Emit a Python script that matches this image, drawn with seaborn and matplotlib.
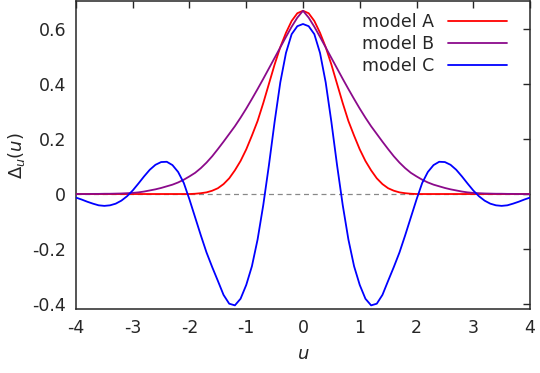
"""Gap function Delta_u(u) for three models."""

import matplotlib

matplotlib.use("Agg")
import matplotlib.pyplot as plt
import numpy as np
import pandas as pd
import seaborn as sns

sns.set_theme(style="white")
plt.rcParams["font.family"] = ["DejaVu Sans"]
plt.rcParams["axes.unicode_minus"] = False

U = np.round(np.arange(-40, 41) / 10, 1)

# right half values u = 0.0 .. 4.0, the curves are even in u
MODEL_A_POS = [
    0.665, 0.656, 0.628, 0.585, 0.533, 0.470, 0.400, 0.330, 0.265, 0.212,
    0.162, 0.120, 0.086, 0.057, 0.036, 0.021, 0.012, 0.006, 0.003, 0.001,
    0.0, 0.0, 0.0, 0.0, 0.0, 0.0, 0.0, 0.0, 0.0, 0.0,
    0.0, 0.0, 0.0, 0.0, 0.0, 0.0, 0.0, 0.0, 0.0, 0.0,
    0.0,
]
MODEL_B_POS = [
    0.665, 0.640, 0.607, 0.570, 0.532, 0.494, 0.456, 0.418, 0.381, 0.345,
    0.310, 0.277, 0.246, 0.218, 0.190, 0.163, 0.137, 0.114, 0.094, 0.077,
    0.064, 0.052, 0.042, 0.034, 0.028, 0.022, 0.017, 0.013, 0.009, 0.006,
    0.004, 0.003, 0.002, 0.0015, 0.001, 0.001, 0.0005, 0.0005, 0.0, 0.0,
    0.0,
]
MODEL_C_POS = [
    0.617, 0.609, 0.580, 0.512, 0.405, 0.262, 0.105, -0.040, -0.165, -0.262,
    -0.330, -0.380, -0.404, -0.398, -0.366, -0.315, -0.265, -0.212, -0.150, -0.085,
    -0.020, 0.040, 0.080, 0.105, 0.117, 0.116, 0.106, 0.088, 0.064, 0.038,
    0.013, -0.008, -0.024, -0.035, -0.041, -0.043, -0.041, -0.035, -0.028, -0.020,
    -0.013,
]

MODELS = ["model A", "model B", "model C"]
COLORS = {"model A": "#ff0000", "model B": "#8b0a8b", "model C": "#0000ff"}

X_TICKS = [-4, -3, -2, -1, 0, 1, 2, 3, 4]
X_TICK_LABELS = ["-4", "-3", "-2", "-1", "0", "1", "2", "3", "4"]
Y_TICKS = [-0.4, -0.2, 0.0, 0.2, 0.4, 0.6]
Y_TICK_LABELS = ["-0.4", "-0.2", "0", "0.2", "0.4", "0.6"]


def full_curve(pos: list[float]) -> list[float]:
    return pos[:0:-1] + pos


def build_frame() -> pd.DataFrame:
    frames = []
    for name, pos in zip(MODELS, [MODEL_A_POS, MODEL_B_POS, MODEL_C_POS]):
        frames.append(pd.DataFrame({"u": U, "delta": full_curve(pos), "model": name}))
    return pd.concat(frames, ignore_index=True)


# ── Figure ────────────────────────────────────────────────────────────────────


def main():
    df = build_frame()
    text_color = "#262626"

    fig = plt.figure(figsize=(5.4, 3.73), dpi=100)
    ax = fig.add_axes([0.1407, 0.171, 0.8408, 0.826])

    ax.axhline(0, color="#888888", linewidth=0.9, linestyle=(0, (4, 3)), zorder=1)
    sns.lineplot(data=df, x="u", y="delta", hue="model", hue_order=MODELS,
                 palette=COLORS, linewidth=1.3, ax=ax, zorder=3, legend=False)

    ax.set_xlim(-4, 4)
    ax.set_ylim(-0.418, 0.7)
    ax.set_xticks(X_TICKS)
    ax.set_xticklabels(X_TICK_LABELS)
    ax.set_yticks(Y_TICKS)
    ax.set_yticklabels(Y_TICK_LABELS)
    ax.tick_params(direction="in", length=5, width=1, top=True, right=True,
                   labelsize=12.5, colors=text_color, pad=7)
    for spine in ax.spines.values():
        spine.set_color(text_color)
        spine.set_linewidth(1.1)

    ax.set_xlabel("$u$", fontsize=13, color=text_color, labelpad=6)
    ax.set_ylabel(r"$\Delta_u(u)$", fontsize=13, color=text_color, labelpad=4)

    handles = [plt.Line2D([], [], color=COLORS[m], linewidth=1.3) for m in MODELS]
    ax.legend(handles, MODELS, loc="upper right", frameon=False, markerfirst=False,
              fontsize=12.5, handlelength=3.4, handletextpad=0.8, labelspacing=0.25,
              bbox_to_anchor=(0.965, 0.985), borderaxespad=0, labelcolor=text_color)

    fig.savefig("out.png", dpi=100)
    plt.close(fig)


if __name__ == "__main__":
    main()
